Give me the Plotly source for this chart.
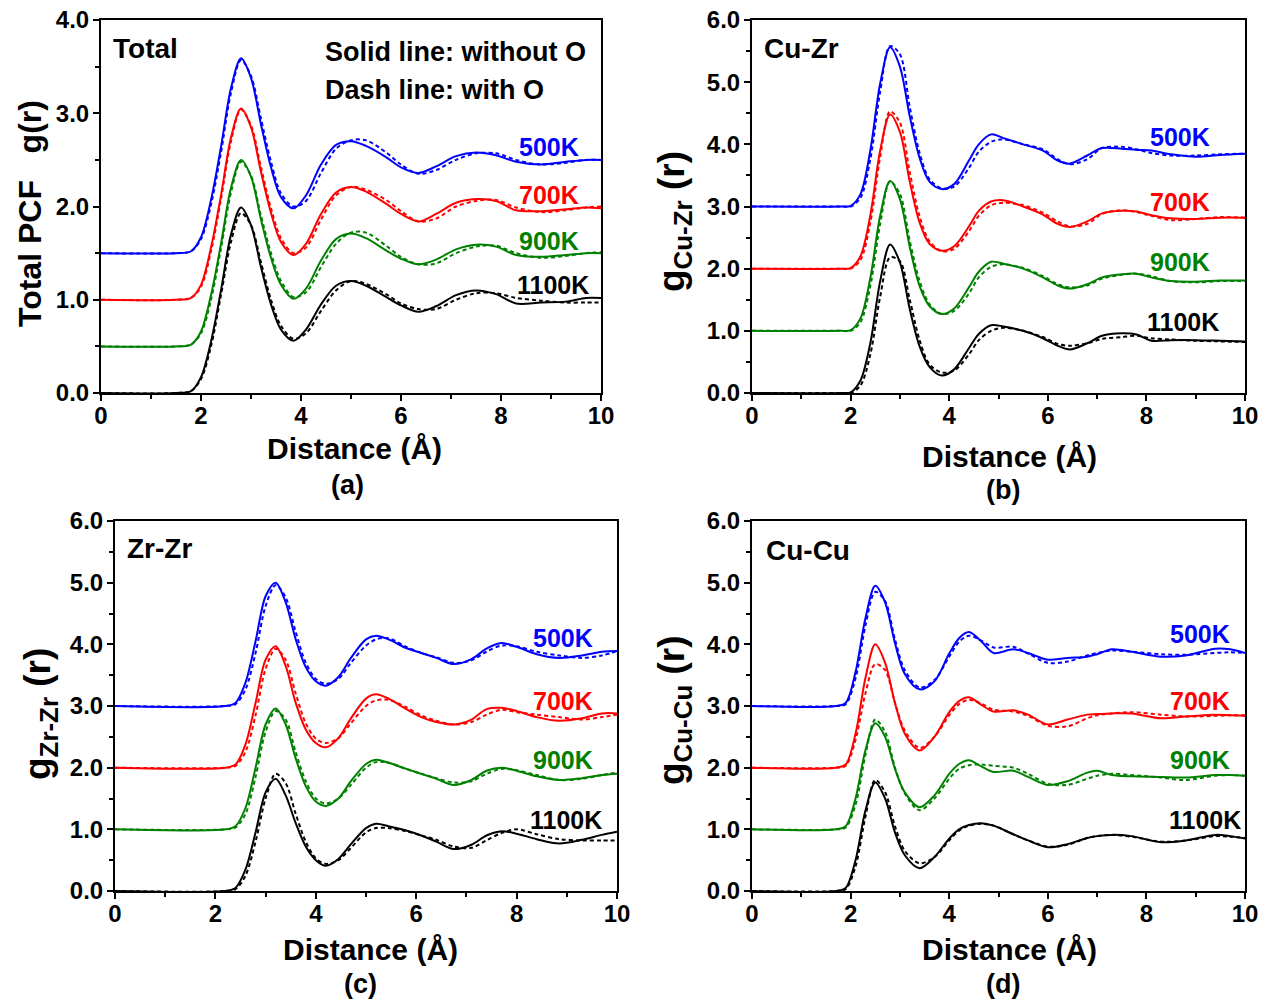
import plotly.graph_objects as go

W, H = 1266, 1002

# ---------------- data ----------------
temps = ["500K", "700K", "900K", "1100K"]
colors = ["#0000FF", "#FF0000", "#008000", "#000000"]
offsets_total = [1.5, 1.0, 0.5, 0.0]
offsets_partial = [3.0, 2.0, 1.0, 0.0]

# (a) Total PCF
r_total = [0, 1.5, 1.8, 2.0, 2.2, 2.4, 2.6, 2.8, 3.0, 3.2, 3.4, 3.6, 3.85, 4.1, 4.4, 4.7, 5.0, 5.3, 5.7, 6.0, 6.35, 6.7, 7.1, 7.5, 7.9, 8.3, 8.8, 9.3, 9.7, 10]
total_500_solid = [0, 0, 0.02, 0.17, 0.57, 1.14, 1.77, 2.09, 1.88, 1.38, 0.92, 0.60, 0.48, 0.62, 0.95, 1.16, 1.20, 1.15, 1.03, 0.92, 0.86, 0.93, 1.04, 1.08, 1.05, 0.98, 0.95, 0.98, 1.00, 1.00]
total_500_dash = [0, 0, 0.02, 0.15, 0.52, 1.08, 1.72, 2.07, 1.90, 1.44, 0.98, 0.64, 0.50, 0.56, 0.86, 1.12, 1.21, 1.21, 1.08, 0.95, 0.85, 0.89, 1.00, 1.07, 1.07, 1.00, 0.95, 0.97, 1.00, 1.00]
total_700_solid = [0, 0, 0.02, 0.16, 0.56, 1.12, 1.74, 2.05, 1.85, 1.37, 0.93, 0.62, 0.48, 0.60, 0.92, 1.15, 1.21, 1.16, 1.03, 0.92, 0.84, 0.92, 1.04, 1.08, 1.06, 0.96, 0.95, 0.97, 0.99, 0.98]
total_700_dash = [0, 0, 0.02, 0.14, 0.52, 1.08, 1.70, 2.04, 1.87, 1.42, 0.98, 0.66, 0.50, 0.56, 0.86, 1.12, 1.21, 1.18, 1.07, 0.95, 0.84, 0.87, 1.00, 1.06, 1.07, 0.99, 0.94, 0.96, 0.99, 1.00]
total_900_solid = [0, 0, 0.02, 0.16, 0.55, 1.10, 1.70, 2.00, 1.82, 1.36, 0.95, 0.66, 0.51, 0.62, 0.92, 1.15, 1.21, 1.16, 1.03, 0.94, 0.88, 0.93, 1.04, 1.09, 1.07, 0.98, 0.96, 0.98, 1.00, 1.00]
total_900_dash = [0, 0, 0.02, 0.14, 0.50, 1.05, 1.65, 1.98, 1.83, 1.40, 1.00, 0.70, 0.53, 0.58, 0.85, 1.10, 1.22, 1.22, 1.08, 0.96, 0.88, 0.89, 1.00, 1.07, 1.08, 1.00, 0.95, 0.97, 1.00, 1.01]
total_1100_solid = [0, 0, 0.02, 0.17, 0.55, 1.10, 1.70, 1.99, 1.80, 1.35, 0.95, 0.68, 0.56, 0.68, 0.95, 1.15, 1.20, 1.15, 1.03, 0.94, 0.87, 0.93, 1.05, 1.10, 1.06, 0.96, 0.97, 0.98, 1.02, 1.02]
total_1100_dash = [0, 0, 0.02, 0.15, 0.50, 1.05, 1.62, 1.93, 1.80, 1.40, 1.00, 0.72, 0.58, 0.64, 0.88, 1.10, 1.20, 1.17, 1.06, 0.96, 0.90, 0.90, 1.00, 1.07, 1.07, 1.02, 0.99, 0.97, 0.97, 0.97]

# (b) Cu-Zr
r_cuzr = [0, 1.8, 2.0, 2.2, 2.4, 2.6, 2.8, 3.0, 3.2, 3.4, 3.6, 3.85, 4.1, 4.4, 4.6, 4.85, 5.1, 5.5, 5.9, 6.2, 6.45, 6.8, 7.1, 7.5, 7.8, 8.1, 8.5, 9.0, 9.5, 10]
cuzr_500_solid = [0, 0, 0.01, 0.20, 0.90, 1.98, 2.56, 2.25, 1.45, 0.78, 0.40, 0.28, 0.36, 0.74, 1.00, 1.16, 1.10, 1.00, 0.90, 0.74, 0.69, 0.82, 0.94, 0.93, 0.91, 0.90, 0.84, 0.80, 0.83, 0.85]
cuzr_500_dash = [0, 0, 0.00, 0.14, 0.76, 1.85, 2.58, 2.45, 1.60, 0.86, 0.44, 0.29, 0.32, 0.62, 0.88, 1.04, 1.08, 1.00, 0.92, 0.76, 0.68, 0.76, 0.94, 0.96, 0.92, 0.86, 0.82, 0.82, 0.84, 0.85]
cuzr_700_solid = [0, 0, 0.01, 0.20, 0.86, 1.90, 2.48, 2.20, 1.40, 0.74, 0.40, 0.29, 0.36, 0.68, 0.93, 1.08, 1.10, 1.00, 0.87, 0.72, 0.67, 0.76, 0.89, 0.93, 0.92, 0.86, 0.81, 0.80, 0.82, 0.82]
cuzr_700_dash = [0, 0, 0.00, 0.14, 0.74, 1.80, 2.53, 2.35, 1.55, 0.84, 0.44, 0.28, 0.32, 0.60, 0.85, 1.02, 1.06, 1.02, 0.90, 0.76, 0.68, 0.72, 0.88, 0.94, 0.91, 0.85, 0.78, 0.80, 0.83, 0.82]
cuzr_900_solid = [0, 0, 0.01, 0.20, 0.85, 1.85, 2.41, 2.12, 1.35, 0.72, 0.40, 0.27, 0.36, 0.70, 0.95, 1.11, 1.08, 1.00, 0.86, 0.73, 0.68, 0.75, 0.86, 0.91, 0.92, 0.86, 0.80, 0.79, 0.81, 0.81]
cuzr_900_dash = [0, 0, 0.00, 0.14, 0.72, 1.72, 2.40, 2.20, 1.45, 0.80, 0.43, 0.27, 0.32, 0.60, 0.86, 1.03, 1.07, 1.01, 0.88, 0.75, 0.70, 0.73, 0.84, 0.90, 0.92, 0.88, 0.80, 0.78, 0.80, 0.80]
cuzr_1100_solid = [0, 0, 0.01, 0.20, 0.80, 1.80, 2.39, 2.10, 1.35, 0.75, 0.42, 0.28, 0.38, 0.72, 0.95, 1.09, 1.07, 1.00, 0.88, 0.76, 0.70, 0.80, 0.92, 0.96, 0.94, 0.84, 0.85, 0.85, 0.84, 0.83]
cuzr_1100_dash = [0, 0, 0.00, 0.12, 0.62, 1.55, 2.18, 2.12, 1.50, 0.85, 0.46, 0.33, 0.36, 0.62, 0.85, 1.00, 1.05, 1.00, 0.90, 0.79, 0.76, 0.80, 0.87, 0.90, 0.92, 0.88, 0.86, 0.84, 0.83, 0.82]

# (c) Zr-Zr
r_zrzr = [0, 2.2, 2.4, 2.6, 2.8, 3.0, 3.2, 3.4, 3.6, 3.8, 4.0, 4.2, 4.45, 4.7, 5.0, 5.2, 5.45, 5.8, 6.1, 6.4, 6.75, 7.1, 7.4, 7.7, 8.0, 8.4, 8.85, 9.3, 9.7, 10]
zrzr_500_solid = [0, 0, 0.05, 0.38, 1.05, 1.78, 2.00, 1.68, 1.08, 0.63, 0.40, 0.33, 0.47, 0.78, 1.08, 1.14, 1.08, 0.94, 0.86, 0.78, 0.68, 0.76, 0.93, 1.02, 0.96, 0.84, 0.78, 0.82, 0.88, 0.89]
zrzr_500_dash = [0, 0, 0.03, 0.27, 0.86, 1.62, 1.96, 1.76, 1.20, 0.70, 0.44, 0.36, 0.44, 0.70, 0.98, 1.08, 1.10, 0.96, 0.86, 0.79, 0.70, 0.74, 0.88, 0.98, 0.97, 0.88, 0.82, 0.78, 0.82, 0.89]
zrzr_700_solid = [0, 0, 0.05, 0.38, 1.05, 1.75, 1.97, 1.65, 1.05, 0.62, 0.40, 0.33, 0.48, 0.80, 1.12, 1.19, 1.12, 0.95, 0.82, 0.74, 0.70, 0.78, 0.95, 0.97, 0.92, 0.82, 0.76, 0.80, 0.88, 0.88]
zrzr_700_dash = [0, 0, 0.03, 0.26, 0.85, 1.60, 1.93, 1.75, 1.20, 0.72, 0.47, 0.40, 0.48, 0.72, 1.00, 1.09, 1.10, 0.98, 0.85, 0.76, 0.70, 0.74, 0.86, 0.94, 0.90, 0.86, 0.82, 0.78, 0.82, 0.86]
zrzr_900_solid = [0, 0, 0.05, 0.35, 1.00, 1.70, 1.96, 1.70, 1.15, 0.70, 0.45, 0.38, 0.50, 0.78, 1.06, 1.13, 1.08, 0.98, 0.90, 0.82, 0.72, 0.80, 0.95, 1.00, 0.95, 0.86, 0.80, 0.83, 0.88, 0.90]
zrzr_900_dash = [0, 0, 0.03, 0.25, 0.85, 1.58, 1.92, 1.78, 1.25, 0.78, 0.50, 0.42, 0.50, 0.72, 1.00, 1.09, 1.08, 0.98, 0.90, 0.83, 0.76, 0.78, 0.90, 0.98, 0.96, 0.88, 0.80, 0.82, 0.88, 0.92]
zrzr_1100_solid = [0, 0, 0.05, 0.35, 0.95, 1.60, 1.82, 1.55, 1.10, 0.72, 0.50, 0.41, 0.52, 0.76, 1.02, 1.09, 1.05, 0.98, 0.90, 0.80, 0.68, 0.75, 0.90, 0.97, 0.93, 0.84, 0.77, 0.83, 0.91, 0.96]
zrzr_1100_dash = [0, 0, 0.03, 0.25, 0.80, 1.50, 1.90, 1.75, 1.25, 0.80, 0.53, 0.44, 0.50, 0.70, 0.95, 1.02, 1.02, 0.97, 0.90, 0.83, 0.72, 0.70, 0.82, 0.94, 1.00, 0.92, 0.84, 0.82, 0.82, 0.82]

# (d) Cu-Cu
r_cucu = [0, 1.7, 1.9, 2.1, 2.3, 2.5, 2.7, 2.9, 3.1, 3.4, 3.7, 4.0, 4.2, 4.4, 4.65, 4.9, 5.3, 5.6, 6.0, 6.4, 6.8, 7.0, 7.3, 7.7, 8.3, 8.8, 9.4, 9.7, 10]
cucu_500_solid = [0, 0, 0.05, 0.55, 1.42, 1.95, 1.68, 1.02, 0.52, 0.27, 0.40, 0.85, 1.10, 1.20, 1.05, 0.86, 0.92, 0.86, 0.75, 0.78, 0.80, 0.84, 0.92, 0.88, 0.80, 0.82, 0.93, 0.92, 0.86]
cucu_500_dash = [0, 0, 0.03, 0.45, 1.30, 1.85, 1.70, 1.08, 0.58, 0.30, 0.42, 0.80, 1.04, 1.14, 1.06, 0.95, 0.96, 0.85, 0.70, 0.72, 0.82, 0.86, 0.90, 0.88, 0.84, 0.83, 0.86, 0.87, 0.86]
cucu_700_solid = [0, 0, 0.05, 0.55, 1.45, 2.00, 1.70, 1.05, 0.55, 0.28, 0.50, 0.90, 1.08, 1.14, 1.02, 0.91, 0.93, 0.86, 0.70, 0.78, 0.86, 0.87, 0.88, 0.88, 0.80, 0.83, 0.86, 0.85, 0.84]
cucu_700_dash = [0, 0, 0.03, 0.45, 1.20, 1.68, 1.58, 1.05, 0.60, 0.32, 0.50, 0.85, 1.03, 1.10, 1.04, 0.94, 0.91, 0.84, 0.68, 0.67, 0.80, 0.85, 0.88, 0.90, 0.86, 0.83, 0.84, 0.85, 0.85]
cucu_900_solid = [0, 0, 0.05, 0.50, 1.28, 1.72, 1.50, 0.98, 0.60, 0.36, 0.55, 0.90, 1.06, 1.12, 1.02, 0.93, 0.95, 0.85, 0.72, 0.78, 0.92, 0.95, 0.88, 0.86, 0.85, 0.84, 0.88, 0.88, 0.87]
cucu_900_dash = [0, 0, 0.03, 0.40, 1.20, 1.78, 1.58, 1.00, 0.58, 0.31, 0.50, 0.82, 0.98, 1.04, 1.05, 1.03, 1.00, 0.90, 0.74, 0.72, 0.82, 0.87, 0.90, 0.88, 0.84, 0.80, 0.87, 0.88, 0.87]
cucu_1100_solid = [0, 0, 0.05, 0.50, 1.30, 1.76, 1.50, 0.95, 0.58, 0.37, 0.55, 0.85, 1.00, 1.07, 1.10, 1.06, 0.92, 0.82, 0.71, 0.76, 0.86, 0.89, 0.91, 0.89, 0.79, 0.82, 0.91, 0.89, 0.85]
cucu_1100_dash = [0, 0, 0.03, 0.40, 1.20, 1.80, 1.60, 1.05, 0.65, 0.45, 0.55, 0.82, 0.98, 1.06, 1.09, 1.06, 0.92, 0.82, 0.72, 0.75, 0.86, 0.89, 0.91, 0.88, 0.80, 0.82, 0.89, 0.88, 0.86]

panels = [
    dict(r=r_total, offsets=offsets_total,
         solid=[total_500_solid, total_700_solid, total_900_solid, total_1100_solid],
         dash=[total_500_dash, total_700_dash, total_900_dash, total_1100_dash]),
    dict(r=r_cuzr, offsets=offsets_partial,
         solid=[cuzr_500_solid, cuzr_700_solid, cuzr_900_solid, cuzr_1100_solid],
         dash=[cuzr_500_dash, cuzr_700_dash, cuzr_900_dash, cuzr_1100_dash]),
    dict(r=r_zrzr, offsets=offsets_partial,
         solid=[zrzr_500_solid, zrzr_700_solid, zrzr_900_solid, zrzr_1100_solid],
         dash=[zrzr_500_dash, zrzr_700_dash, zrzr_900_dash, zrzr_1100_dash]),
    dict(r=r_cucu, offsets=offsets_partial,
         solid=[cucu_500_solid, cucu_700_solid, cucu_900_solid, cucu_1100_solid],
         dash=[cucu_500_dash, cucu_700_dash, cucu_900_dash, cucu_1100_dash]),
]

# ---------------- layout geometry (pixels) ----------------
boxes = [(101, 601, 20, 393), (752, 1245, 20, 393), (115, 617, 521, 891), (752, 1245, 521, 891)]
yranges = [[0, 4.0], [0, 6.0], [0, 6.0], [0, 6.0]]


def px(x):
    return x / W


def py(y):
    return 1 - y / H


FONT = "Liberation Sans"
fig = go.Figure()

for i, p in enumerate(panels):
    xa = "x" if i == 0 else f"x{i+1}"
    ya = "y" if i == 0 else f"y{i+1}"
    for k in range(4):
        off = p["offsets"][k]
        fig.add_trace(go.Scatter(
            x=p["r"], y=[v + off for v in p["solid"][k]], mode="lines",
            line=dict(color=colors[k], width=2, shape="spline", smoothing=0.9),
            xaxis=xa, yaxis=ya, showlegend=False, hoverinfo="skip"))
        fig.add_trace(go.Scatter(
            x=p["r"], y=[v + off for v in p["dash"][k]], mode="lines",
            line=dict(color=colors[k], width=2, shape="spline", smoothing=0.9, dash="4px,3px"),
            xaxis=xa, yaxis=ya, showlegend=False, hoverinfo="skip"))

layout = dict(width=W, height=H, autosize=False, template="none",
              margin=dict(l=0, r=0, t=0, b=0, pad=0, autoexpand=False),
              paper_bgcolor="white", plot_bgcolor="white", showlegend=False)

tickfont = dict(family=FONT, size=24, color="black", weight="bold")
for i, (l, r, t, b) in enumerate(boxes):
    xk = "xaxis" if i == 0 else f"xaxis{i+1}"
    yk = "yaxis" if i == 0 else f"yaxis{i+1}"
    ya = "y" if i == 0 else f"y{i+1}"
    xa = "x" if i == 0 else f"x{i+1}"
    layout[xk] = dict(domain=[px(l), px(r)], anchor=ya, range=[0, 10], dtick=2, tick0=0,
                      automargin=False, ticklabelstandoff=-6,
                      showgrid=False, zeroline=False, showline=True, linecolor="black", linewidth=2,
                      mirror=True, ticks="outside", ticklen=6, tickwidth=2, tickcolor="black",
                      tickfont=tickfont,
                      minor=dict(dtick=1, ticks="outside", ticklen=4, tickwidth=1.5, tickcolor="black",
                                 showgrid=False))
    layout[yk] = dict(domain=[py(b), py(t)], anchor=xa, range=yranges[i], dtick=1, tick0=0,
                      tickformat=".1f", automargin=False, ticklabelstandoff=-1,
                      showgrid=False, zeroline=False, showline=True, linecolor="black", linewidth=2,
                      mirror=True, ticks="outside", ticklen=6, tickwidth=2, tickcolor="black",
                      tickfont=tickfont,
                      minor=dict(dtick=0.5, ticks="outside", ticklen=4, tickwidth=1.5, tickcolor="black",
                                 showgrid=False))

annotations = []


def ann_px(text, x, y, size, xanchor="center", angle=0, color="black"):
    annotations.append(dict(text=text, x=px(x), y=py(y), xref="paper", yref="paper",
                            xanchor=xanchor, yanchor="middle", showarrow=False, textangle=angle,
                            font=dict(family=FONT, size=size, color=color, weight="bold")))


# axis titles and captions
for (x, y) in [(354, 449), (1010, 456), (370, 949), (1010, 949)]:
    ann_px("Distance (Å)", x, y, 30)
for (t, x, y) in [("(a)", 347, 485), ("(b)", 1003, 490), ("(c)", 360, 984), ("(d)", 1003, 984)]:
    ann_px(t, x, y, 27)

ann_px("Total PCF   g(r)", 30, 214, 32, angle=-90)
ann_px("g<sub>Cu-Zr</sub> (r)", 674, 222, 37, angle=-90)
ann_px("g<sub>Zr-Zr</sub> (r)", 40, 714, 37, angle=-90)
ann_px("g<sub>Cu-Cu</sub> (r)", 674, 710, 37, angle=-90)

# panel labels
ann_px("Total", 111, 48, 28, xanchor="left")
ann_px("Solid line: without O", 323, 52, 27, xanchor="left")
ann_px("Dash line: with O", 323, 90, 27, xanchor="left")
ann_px("Cu-Zr", 762, 48, 28, xanchor="left")
ann_px("Zr-Zr", 125, 548, 28, xanchor="left")
ann_px("Cu-Cu", 764, 550, 28, xanchor="left")

# temperature labels (pixel centers)
temp_pos = [
    [(549, 147), (549, 195), (549, 241), (553, 285)],
    [(1180, 137), (1180, 202), (1180, 262), (1183, 322)],
    [(563, 638), (563, 701), (563, 760), (566, 820)],
    [(1200, 634), (1200, 701), (1200, 760), (1205, 820)],
]
for i in range(4):
    for k in range(4):
        x, y = temp_pos[i][k]
        ann_px(temps[k], x, y, 25, color=colors[k])

layout["annotations"] = annotations
fig.update_layout(**layout)
fig.write_html("out.html")
